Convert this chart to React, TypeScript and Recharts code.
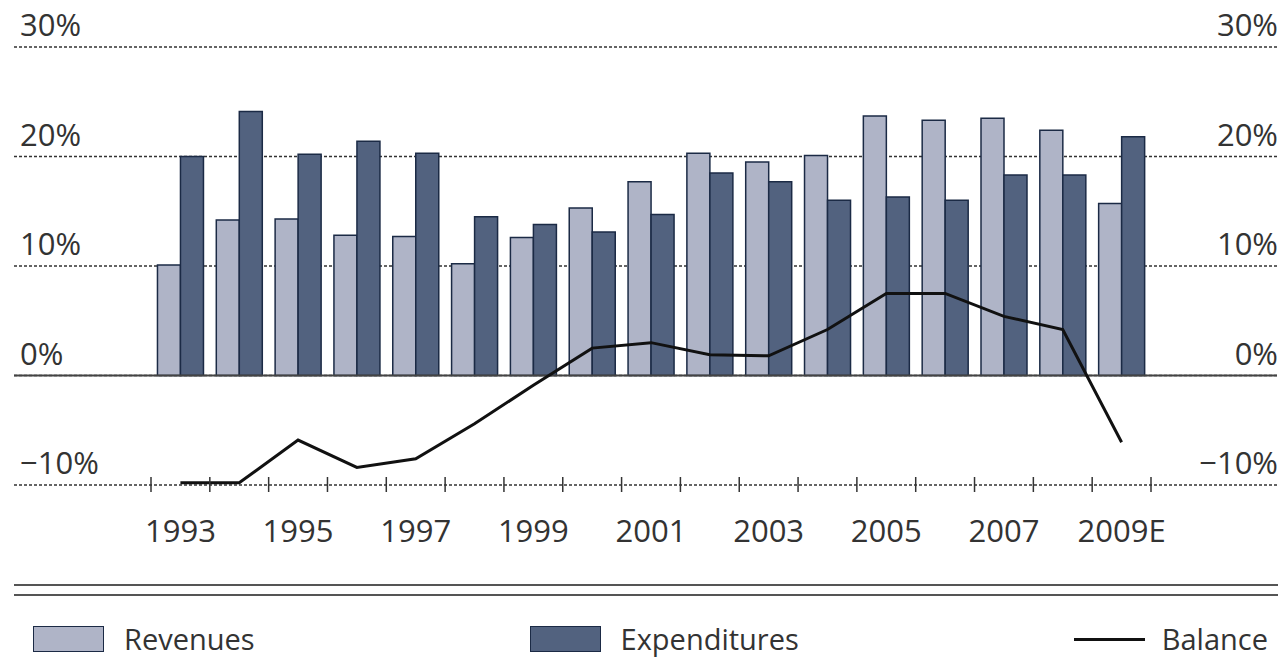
import React from 'react'
import { ComposedChart, Bar, Line, XAxis, YAxis, CartesianGrid, ReferenceLine } from 'recharts'

const years = ['1993', '1994', '1995', '1996', '1997', '1998', '1999', '2000', '2001', '2002', '2003', '2004', '2005', '2006', '2007', '2008', '2009E']
const revenues = [10.1, 14.2, 14.3, 12.8, 12.7, 10.2, 12.6, 15.3, 17.7, 20.3, 19.5, 20.1, 23.7, 23.3, 23.5, 22.4, 15.7]
const expenditures = [20.0, 24.1, 20.2, 21.4, 20.3, 14.5, 13.8, 13.1, 14.7, 18.5, 17.7, 16.0, 16.3, 16.0, 18.3, 18.3, 21.8]
const balance = [-9.8, -9.8, -5.9, -8.4, -7.6, -4.4, -0.9, 2.5, 3.0, 1.9, 1.8, 4.2, 7.5, 7.5, 5.4, 4.2, -6.1]
const yTicks = [-10, 0, 10, 20, 30]

const REV_COLOR = '#afb4c7'
const EXP_COLOR = '#52627f'
const BAR_STROKE = '#1b2a45'
const TEXT_COLOR = '#333'
const FONT = '"Open Sans", "DejaVu Sans", sans-serif'

const data = years.map((year, i) => ({
  year,
  revenues: revenues[i],
  expenditures: expenditures[i],
  balance: balance[i],
}))

const fmtPct = (v: number) => `${v < 0 ? '\u2212' : ''}${Math.abs(v)}%`

// left axis sits at x=14, right axis at x=1277; labels sit above each line
function LeftTick(props: any) {
  const { x, y, payload } = props
  return (
    <text x={x + 6} y={y} dy={-11} textAnchor="start" fill={TEXT_COLOR} fontSize={31} fontFamily={FONT}>
      {fmtPct(payload.value)}
    </text>
  )
}

function RightTick(props: any) {
  const { x, y, payload } = props
  return (
    <text x={x + 1} y={y} dy={-11} textAnchor="end" fill={TEXT_COLOR} fontSize={31} fontFamily={FONT}>
      {fmtPct(payload.value)}
    </text>
  )
}

function YearTick(props: any) {
  const { x, y, payload } = props
  const index = payload.index ?? props.index
  const half = payload.offset || 29.4
  const isLast = index === years.length - 1
  return (
    <g>
      <line x1={x - half} x2={x - half} y1={y - 8} y2={y + 7} stroke="#333" strokeWidth={1.5} />
      {isLast && <line x1={x + half} x2={x + half} y1={y - 8} y2={y + 7} stroke="#333" strokeWidth={1.5} />}
      {index % 2 === 0 && (
        <text x={x} y={y} dy={57} textAnchor="middle" fill={TEXT_COLOR} fontSize={31} fontFamily={FONT}>
          {payload.value}
        </text>
      )}
    </g>
  )
}

function LegendRow() {
  const item = { display: 'flex', alignItems: 'center', gap: 20 }
  const label = { fontSize: 29, color: TEXT_COLOR, lineHeight: '26px' }
  return (
    <div style={{ marginLeft: 14, fontFamily: FONT }}>
      <div style={{ marginTop: 24, height: 8, borderTop: '2px solid #555', borderBottom: '2px solid #555' }} />
      <div style={{ display: 'flex', justifyContent: 'space-between', marginTop: 30, paddingLeft: 19, paddingRight: 10 }}>
        <div style={item}>
          <div style={{ width: 69, height: 24, background: REV_COLOR, border: `1.5px solid ${BAR_STROKE}` }} />
          <span style={label}>Revenues</span>
        </div>
        <div style={item}>
          <div style={{ width: 69, height: 24, background: EXP_COLOR, border: `1.5px solid ${BAR_STROKE}` }} />
          <span style={label}>Expenditures</span>
        </div>
        <div style={{ ...item, gap: 17 }}>
          <div style={{ width: 71, height: 3, background: '#111' }} />
          <span style={label}>Balance</span>
        </div>
      </div>
    </div>
  )
}

export default function App() {
  return (
    <div style={{ width: 1278, height: 658, background: '#fff' }}>
      <style>{`body{margin:0;overflow:hidden;background:#fff}`}</style>
      <ComposedChart
        width={1278}
        height={560}
        data={data}
        margin={{ top: 47, right: 0, left: 13, bottom: 15 }}
        barCategoryGap="11%"
        barGap={0}
      >
        <CartesianGrid yAxisId="left" vertical={false} stroke="#333" strokeWidth={1.3} strokeDasharray="3 2" />
        <XAxis
          dataKey="year"
          padding={{ left: 137, right: 126 }}
          axisLine={false}
          tickLine={false}
          tickSize={0}
          tickMargin={0}
          interval={0}
          height={60}
          tick={<YearTick />}
        />
        <YAxis
          yAxisId="left"
          domain={[-10, 30]}
          ticks={yTicks}
          allowDataOverflow
          width={1}
          axisLine={false}
          tickLine={false}
          tickSize={0}
          tickMargin={0}
          tick={<LeftTick />}
        />
        <YAxis
          yAxisId="right"
          orientation="right"
          domain={[-10, 30]}
          ticks={yTicks}
          allowDataOverflow
          width={1}
          axisLine={false}
          tickLine={false}
          tickSize={0}
          tickMargin={0}
          tick={<RightTick />}
        />
        <Bar yAxisId="left" dataKey="revenues" name="Revenues" fill={REV_COLOR} stroke={BAR_STROKE} strokeWidth={1.5} isAnimationActive={false} />
        <Bar yAxisId="left" dataKey="expenditures" name="Expenditures" fill={EXP_COLOR} stroke={BAR_STROKE} strokeWidth={1.5} isAnimationActive={false} />
        <ReferenceLine yAxisId="left" y={0} stroke="#444" strokeWidth={2} />
        <Line
          yAxisId="left"
          type="linear"
          dataKey="balance"
          name="Balance"
          stroke="#111"
          strokeWidth={3}
          dot={false}
          activeDot={false}
          isAnimationActive={false}
        />
      </ComposedChart>
      <LegendRow />
    </div>
  )
}
